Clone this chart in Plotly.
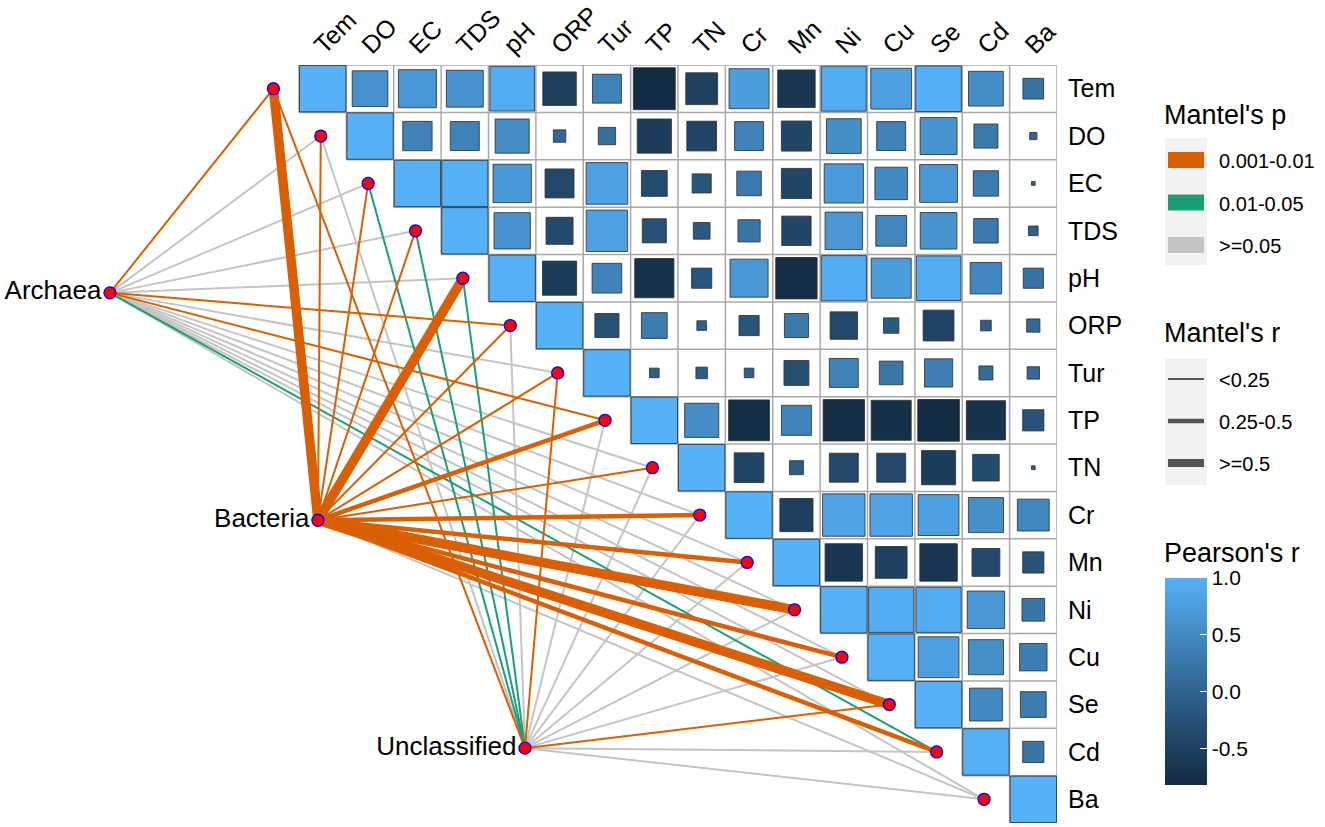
import numpy as np
import plotly.graph_objects as go

# ---------------- data ----------------
env = ["Tem", "DO", "EC", "TDS", "pH", "ORP", "Tur", "TP", "TN",
       "Cr", "Mn", "Ni", "Cu", "Se", "Cd", "Ba"]

# Pearson's r, upper triangle (values to the right of the diagonal)
r_Tem = [0.60, 0.68, 0.64, 0.93, -0.53, 0.40, -0.82, -0.48, 0.75, -0.66, 0.94, 0.78, 0.97, 0.57, 0.21]
r_DO = [0.41, 0.40, 0.55, 0.08, 0.15, -0.55, -0.42, 0.40, -0.43, 0.57, 0.40, 0.64, 0.28, 0.03]
r_EC = [0.99, 0.69, -0.40, 0.81, -0.32, -0.18, 0.29, -0.43, 0.72, 0.50, 0.67, 0.31, 0.01]
r_TDS = [0.62, -0.35, 0.80, -0.28, -0.14, 0.24, -0.41, 0.66, 0.45, 0.63, 0.29, -0.05]
r_pH = [-0.55, 0.42, -0.72, -0.20, 0.68, -0.80, 0.95, 0.75, 0.93, 0.47, 0.20]
r_ORP = [-0.28, 0.32, -0.05, -0.20, 0.28, -0.36, -0.12, -0.45, -0.06, 0.09]
r_Tur = [-0.05, -0.07, -0.05, -0.30, 0.40, 0.27, 0.38, 0.10, 0.08]
r_TP = [0.55, -0.78, 0.43, -0.80, -0.75, -0.81, -0.72, -0.22]
r_TN = [-0.42, -0.10, -0.40, -0.40, -0.55, -0.34, -0.01]
r_Cr = [-0.52, 0.84, 0.84, 0.78, 0.58, 0.48]
r_Mn = [-0.66, -0.48, -0.66, -0.37, -0.22]
r_Ni = [0.95, 0.95, 0.66, 0.25]
r_Cu = [0.78, 0.58, 0.36]
r_Se = [0.51, 0.32]
r_Cd = [0.22]
upper_rows = [r_Tem, r_DO, r_EC, r_TDS, r_pH, r_ORP, r_Tur, r_TP, r_TN,
              r_Cr, r_Mn, r_Ni, r_Cu, r_Se, r_Cd, []]

species = ["Archaea", "Bacteria", "Unclassified"]
# Mantel's p class per env variable
A, B, C = "0.001-0.01", "0.01-0.05", ">=0.05"
archaea_p = [A, C, C, C, C, A, C, A, C, C, C, C, C, C, B, C]
bacteria_p = [A, A, A, A, A, A, A, A, A, A, A, A, A, A, A, C]
unclassified_p = [A, C, B, B, B, C, A, C, C, C, C, C, C, A, C, C]
# Mantel's r class per env variable
S, M, L = "<0.25", "0.25-0.5", ">=0.5"
archaea_r = [S] * 16
bacteria_r = [L, S, S, S, L, S, S, M, S, M, M, L, M, L, M, S]
unclassified_r = [S] * 16
mantel_p = [archaea_p, bacteria_p, unclassified_p]
mantel_r = [archaea_r, bacteria_r, unclassified_r]

p_levels = [A, B, C]
r_levels = [S, M, L]
pearson_ticks = [1.0, 0.5, 0.0, -0.5]

# ---------------- style ----------------
FONT = "Arial, Liberation Sans, sans-serif"
p_colors = {A: "#D95F02", B: "#1B9E77", C: "#C4C4C4"}
r_widths = {S: 2.0, M: 4.5, L: 9.5}
CMIN, CMAX = -0.82, 1.0
W, H = 1325, 827
ML, MR, MT, MB = 0, 268, 65, 4
n = len(env)
XR = [-6.811, n - 0.5]
YR = [-(n - 0.5), 0.5]
cell_px = (W - ML - MR) / (XR[1] - XR[0])

# ggplot-like Lab gradient #132B43 -> #56B1F7
def _to_lab(h):
    rgb = [int(h[i:i + 2], 16) / 255 for i in (1, 3, 5)]
    lin = [((c + 0.055) / 1.055) ** 2.4 if c > 0.04045 else c / 12.92 for c in rgb]
    R, G, Bb = lin
    X = (0.4124 * R + 0.3576 * G + 0.1805 * Bb) / 0.95047
    Y = (0.2126 * R + 0.7152 * G + 0.0722 * Bb)
    Z = (0.0193 * R + 0.1192 * G + 0.9505 * Bb) / 1.08883
    f = lambda t: t ** (1 / 3) if t > 0.008856 else 7.787 * t + 16 / 116
    fx, fy, fz = f(X), f(Y), f(Z)
    return np.array([116 * fy - 16, 500 * (fx - fy), 200 * (fy - fz)])

def _from_lab(lab):
    Lc, a, b = lab
    fy = (Lc + 16) / 116
    fx = fy + a / 500
    fz = fy - b / 200
    finv = lambda t: t ** 3 if t ** 3 > 0.008856 else (t - 16 / 116) / 7.787
    X, Y, Z = finv(fx) * 0.95047, finv(fy), finv(fz) * 1.08883
    R = 3.2406 * X - 1.5372 * Y - 0.4986 * Z
    G = -0.9689 * X + 1.8758 * Y + 0.0415 * Z
    Bb = 0.0557 * X - 0.2040 * Y + 1.0570 * Z
    out = []
    for c in (R, G, Bb):
        c = min(max(c, 0), 1)
        c = 1.055 * c ** (1 / 2.4) - 0.055 if c > 0.0031308 else 12.92 * c
        out.append(int(round(min(max(c, 0), 1) * 255)))
    return "rgb(%d,%d,%d)" % tuple(out)

lo, hi = _to_lab("#132B43"), _to_lab("#56B1F7")
colorscale = [[t, _from_lab(lo + (hi - lo) * t)] for t in np.linspace(0, 1, 21)]

def px_x(X):
    return (X - ML) / (W - ML - MR)

def px_y(Y):
    return (H - MB - Y) / (H - MT - MB)

fig = go.Figure()

# ---------------- grid (upper triangle incl. diagonal) ----------------
gx, gy = [], []
for k in range(n + 1):
    x0 = max(k - 1, 0) - 0.5 if k > 0 else -0.5
    gx += [x0, n - 0.5, None]
    gy += [-(k - 0.5), -(k - 0.5), None]
    y1 = min(k + 1, n) - 0.5
    gx += [k - 0.5, k - 0.5, None]
    gy += [0.5, -y1, None]
fig.add_trace(go.Scatter(x=gx, y=gy, mode="lines", line=dict(color="#A8A8A8", width=1.5),
                         hoverinfo="skip", showlegend=False, cliponaxis=False))

# ---------------- squares ----------------
sx, sy, sr = [], [], []
for i in range(n):
    sx.append(i); sy.append(-i); sr.append(1.0)
    for k, v in enumerate(upper_rows[i]):
        j = i + 1 + k
        sx.append(j); sy.append(-i); sr.append(v)
sr = np.array(sr)

CB_TOP, CB_BOT = 578, 785
fig.add_trace(go.Scatter(
    x=sx, y=sy, mode="markers", hoverinfo="skip", showlegend=False, cliponaxis=False,
    marker=dict(symbol="square", size=cell_px * np.sqrt(np.abs(sr)) - 1, opacity=1,
                color=sr, colorscale=colorscale, cmin=CMIN, cmax=CMAX,
                line=dict(color="rgba(50,50,50,0.85)", width=1),
                showscale=True,
                colorbar=dict(
                    tickvals=pearson_ticks, ticktext=["%.1f" % t for t in pearson_ticks],
                    tickfont=dict(size=21, family=FONT, color="black"),
                    ticks="inside", ticklen=7, tickcolor="white", tickwidth=1,
                    thickness=42, thicknessmode="pixels",
                    len=CB_BOT - CB_TOP, lenmode="pixels",
                    xref="paper", x=px_x(1165), xanchor="left",
                    yref="paper", y=px_y((CB_TOP + CB_BOT) / 2), yanchor="middle",
                    xpad=0, ypad=0, outlinewidth=0))))

# ---------------- Mantel links ----------------
env_x = [i - 1.04 for i in range(n)]
env_y = [-i for i in range(n)]
sp_x = [-4.49, -0.10, 4.27]
sp_y = [-4.31, -9.11, -13.92]

for pl in [C, B, A]:
    for rl in r_levels:
        lx, ly = [], []
        for s in range(len(species)):
            for i in range(n):
                if mantel_p[s][i] == pl and mantel_r[s][i] == rl:
                    lx += [sp_x[s], env_x[i], None]
                    ly += [sp_y[s], env_y[i], None]
        if lx:
            fig.add_trace(go.Scatter(x=lx, y=ly, mode="lines", hoverinfo="skip", showlegend=False,
                                     line=dict(color=p_colors[pl], width=r_widths[rl])))

# nodes
fig.add_trace(go.Scatter(x=env_x, y=env_y, mode="markers", hoverinfo="skip", showlegend=False,
                         marker=dict(size=12, color="red", opacity=1, line=dict(color="blue", width=1.3))))
fig.add_trace(go.Scatter(x=sp_x, y=sp_y, mode="markers+text", text=species,
                         textposition="middle left", hoverinfo="skip", showlegend=False,
                         textfont=dict(size=26, family=FONT, color="black"),
                         marker=dict(size=12, color="red", opacity=1, line=dict(color="blue", width=1.3))))

# ---------------- legends (Mantel's p, Mantel's r, colorbar title) ----------------
shapes, annos = [], []

def add_rect(x0, y0, x1, y1, fill):
    shapes.append(dict(type="rect", xref="paper", yref="paper", layer="above",
                       x0=px_x(x0), x1=px_x(x1), y0=px_y(y1), y1=px_y(y0),
                       fillcolor=fill, line=dict(width=0)))

def add_text(x, y, text, size):
    annos.append(dict(xref="paper", yref="paper", x=px_x(x), y=px_y(y), text=text,
                      showarrow=False, xanchor="left", yanchor="middle", borderpad=0,
                      font=dict(size=size, family=FONT, color="black")))

add_text(1163, 115, "Mantel's p", 27)
add_rect(1165, 138, 1207, 265, "#F2F2F2")
for k, pl in enumerate(p_levels):
    yc = 160 + 42.5 * k
    add_rect(1168, yc - 8, 1204, yc + 8, p_colors[pl])
    add_text(1218, yc + 1, pl, 20)

add_text(1163, 333, "Mantel's r", 27)
add_rect(1165, 358, 1207, 485, "#F2F2F2")
leg_w = {S: 2, M: 4.5, L: 8}
for k, rl in enumerate(r_levels):
    yc = 379 + 42 * k
    shapes.append(dict(type="line", xref="paper", yref="paper", layer="above",
                       x0=px_x(1168), x1=px_x(1204), y0=px_y(yc), y1=px_y(yc),
                       line=dict(color="#555555", width=leg_w[rl])))
    add_text(1218, yc + 1, rl, 20)

add_text(1163, 553, "Pearson's r", 27)

fig.update_layout(
    width=W, height=H, autosize=False, template="none",
    margin=dict(l=ML, r=MR, t=MT, b=MB, pad=0, autoexpand=False),
    paper_bgcolor="white", plot_bgcolor="white",
    shapes=shapes, annotations=annos,
    xaxis=dict(range=XR, side="top", tickvals=list(range(n)), ticktext=env,
               tickangle=-45, tickfont=dict(size=25, family=FONT, color="black"),
               ticks="", ticklabelshift=-7, automargin=False,
               showgrid=False, zeroline=False, showline=False, fixedrange=True),
    yaxis=dict(range=YR, side="right", tickvals=[-i for i in range(n)], ticktext=env,
               tickfont=dict(size=25, family=FONT, color="black"),
               ticks="outside", ticklen=5, tickcolor="rgba(0,0,0,0)", automargin=False,
               showgrid=False, zeroline=False, showline=False, fixedrange=True),
)

fig.write_html("out.html", config={"displayModeBar": False},
               post_script="document.body.style.margin='0px';document.body.style.overflow='hidden';")
